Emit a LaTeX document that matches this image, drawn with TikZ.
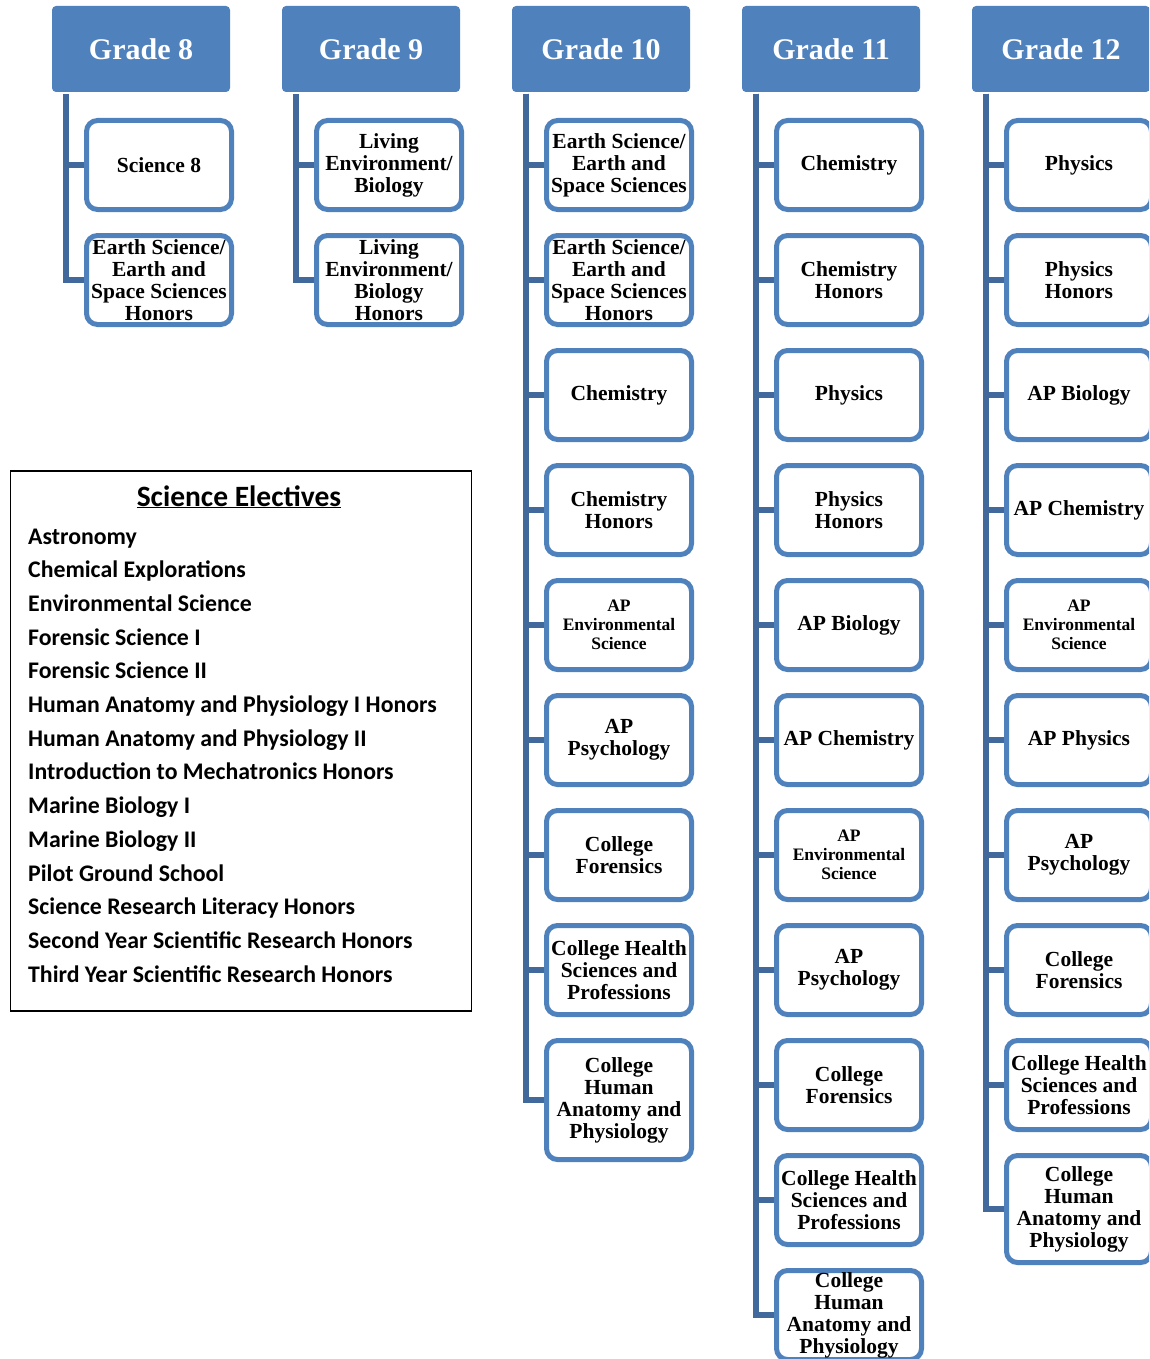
\documentclass[tikz,border=0pt]{standalone}
\usepackage{fontspec}
\setmainfont{Liberation Serif}
\newfontfamily\elfont{Carlito}
\usetikzlibrary{backgrounds}
\definecolor{hdr}{HTML}{4F81BD}
\definecolor{bord}{HTML}{4F81BD}
\definecolor{conn}{HTML}{41699C}
\tikzset{
 header/.style={fill=hdr, draw=none, rounded corners=4pt, minimum width=178pt, minimum height=86pt, inner sep=0pt, text=white, font=\bfseries\fontsize{30}{32}\selectfont},
 course/.style={draw=bord, line width=5pt, fill=white, rounded corners=11pt, minimum width=145pt, minimum height=89pt, inner sep=0pt, align=center, font=\bfseries\fontsize{21.5}{22}\selectfont},
 apsmall/.style={font=\bfseries\fontsize{17.5}{19}\selectfont},
 link/.style={draw=conn, line width=6pt},
 elitem/.style={anchor=base west, inner sep=0pt, font=\elfont\bfseries\fontsize{23.8}{25}\selectfont},
}
\begin{document}
\begin{tikzpicture}[x=1pt,y=-1pt]
\useasboundingbox (0,0) rectangle (1149,1359);
\clip (0,0) rectangle (1149,1359);
% headers
\node[header] (g8) at (141,49) {Grade 8};
\node[header] (g9) at (371,49) {Grade 9};
\node[header] (g10) at (601,49) {Grade 10};
\node[header] (g11) at (831,49) {Grade 11};
\node[header] (g12) at (1061,49) {Grade 12};
% trunk tops
\coordinate (t8) at (66,94);
\coordinate (t9) at (296,94);
\coordinate (t10) at (526,94);
\coordinate (t11) at (756,94);
\coordinate (t12) at (986,94);
% Grade 8
\node[course] (c8a) at (159,165) {Science 8};
\node[course] (c8b) at (159,280) {Earth Science/\\Earth and\\Space Sciences\\Honors};
% Grade 9
\node[course] (c9a) at (389,165) {Living\\Environment/\\Biology};
\node[course] (c9b) at (389,280) {Living\\Environment/\\Biology\\Honors};
% Grade 10
\node[course] (c10a) at (619,165) {Earth Science/\\Earth and\\Space Sciences};
\node[course] (c10b) at (619,280) {Earth Science/\\Earth and\\Space Sciences\\Honors};
\node[course] (c10c) at (619,395) {Chemistry};
\node[course] (c10d) at (619,510) {Chemistry\\Honors};
\node[course,apsmall] (c10e) at (619,625) {AP\\Environmental\\Science};
\node[course] (c10f) at (619,740) {AP\\Psychology};
\node[course] (c10g) at (619,855) {College\\Forensics};
\node[course] (c10h) at (619,970) {College Health\\Sciences and\\Professions};
\node[course,minimum height=119pt] (c10i) at (619,1100) {College\\Human\\Anatomy and\\Physiology};
% Grade 11
\node[course] (c11a) at (849,165) {Chemistry};
\node[course] (c11b) at (849,280) {Chemistry\\Honors};
\node[course] (c11c) at (849,395) {Physics};
\node[course] (c11d) at (849,510) {Physics\\Honors};
\node[course] (c11e) at (849,625) {AP Biology};
\node[course] (c11f) at (849,740) {AP Chemistry};
\node[course,apsmall] (c11g) at (849,855) {AP\\Environmental\\Science};
\node[course] (c11h) at (849,970) {AP\\Psychology};
\node[course] (c11i) at (849,1085) {College\\Forensics};
\node[course] (c11j) at (849,1200) {College Health\\Sciences and\\Professions};
\node[course] (c11k) at (849,1315) {College\\Human\\Anatomy and\\Physiology};
% Grade 12
\node[course] (c12a) at (1079,165) {Physics};
\node[course] (c12b) at (1079,280) {Physics\\Honors};
\node[course] (c12c) at (1079,395) {AP Biology};
\node[course] (c12d) at (1079,510) {AP Chemistry};
\node[course,apsmall] (c12e) at (1079,625) {AP\\Environmental\\Science};
\node[course] (c12f) at (1079,740) {AP Physics};
\node[course] (c12g) at (1079,855) {AP\\Psychology};
\node[course] (c12h) at (1079,970) {College\\Forensics};
\node[course] (c12i) at (1079,1085) {College Health\\Sciences and\\Professions};
\node[course,minimum height=107pt] (c12j) at (1079,1209) {College\\Human\\Anatomy and\\Physiology};
% connectors
\begin{scope}[on background layer]
\foreach \n in {a,b} \draw[link] (t8) |- (c8\n.west);
\foreach \n in {a,b} \draw[link] (t9) |- (c9\n.west);
\foreach \n in {a,b,c,d,e,f,g,h,i} \draw[link] (t10) |- (c10\n.west);
\foreach \n in {a,b,c,d,e,f,g,h,i,j,k} \draw[link] (t11) |- (c11\n.west);
\foreach \n in {a,b,c,d,e,f,g,h,i,j} \draw[link] (t12) |- (c12\n.west);
\end{scope}
% electives
\node[draw=black, line width=1.8pt, minimum width=461pt, minimum height=540pt, inner sep=0pt, anchor=north west] (elbox) at (9.5,470) {};
\node[anchor=base, inner sep=0pt, font=\elfont\bfseries\fontsize{29.5}{31}\selectfont] (eltitle) at (239,506) {\underline{Science Electives}};
\foreach \t [count=\i from 0] in {Astronomy, Chemical Explorations, Environmental Science, Forensic Science I, Forensic Science II, Human Anatomy and Physiology I Honors, Human Anatomy and Physiology II, Introduction to Mechatronics Honors, Marine Biology I, Marine Biology II, Pilot Ground School, Science Research Literacy Honors, Second Year Scientific Research Honors, Third Year Scientific Research Honors}
  \node[elitem] (el\i) at (28,{544+33.7*\i}) {\t};
\end{tikzpicture}
\end{document}
